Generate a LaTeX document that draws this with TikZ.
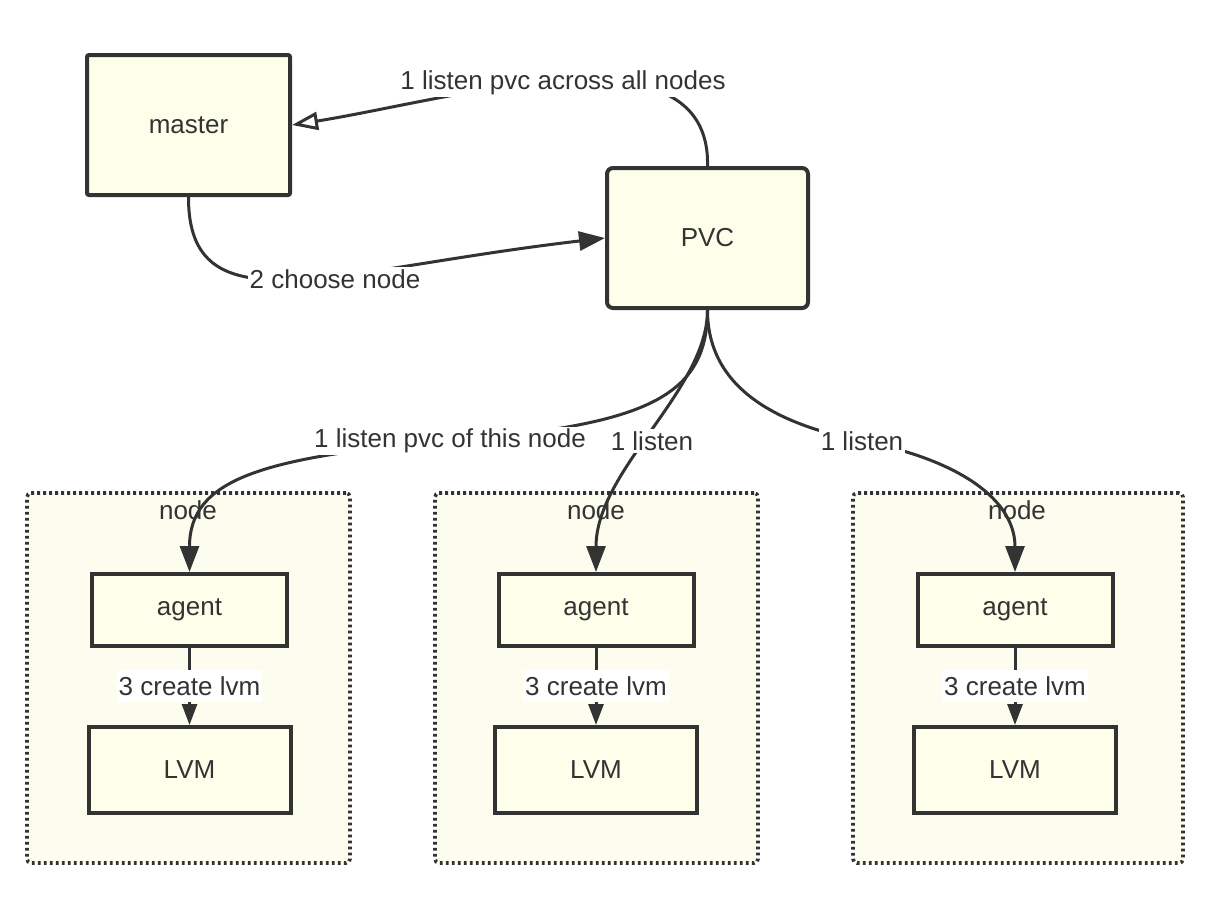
\documentclass[tikz,border=0pt]{standalone}
\usepackage{fontspec}
\setmainfont{Liberation Sans}
\usetikzlibrary{arrows.meta}
\definecolor{ink}{HTML}{333333}
\definecolor{boxfill}{HTML}{FEFFEA}
\definecolor{groupfill}{HTML}{FCFCEF}
\begin{document}
\begin{tikzpicture}[x=0.5pt,y=-0.5pt,
  txt/.style={font=\fontsize{13}{15}\selectfont, text=ink},
  box/.style={txt, draw=ink, line width=2pt, fill=boxfill, inner sep=0pt},
  group/.style={draw=ink, line width=1.8pt, dash pattern=on 1.4pt off 1.6pt,
                fill=groupfill, rounded corners=2pt, inner sep=0pt},
  link/.style={draw=ink, line width=1.5pt},
  solidtip/.style={-{Triangle[length=13pt,width=9.5pt]}},
  smalltip/.style={-{Triangle[length=10.5pt,width=7.5pt]}},
  opentip/.style={-{Triangle[open,length=13pt,width=9pt,fill=white]}},
  lbl/.style={txt, fill=white, inner sep=1pt}]
\useasboundingbox (0,0) rectangle (1220,896);
\fill[white] (0,0) rectangle (1220,896);

% node groups
\node[group, minimum width=161.5pt, minimum height=185pt] (g1) at (188.5,678) {};
\node[group, minimum width=161.5pt, minimum height=185pt] (g2) at (596.5,678) {};
\node[group, minimum width=165pt,   minimum height=185pt] (g3) at (1018,678) {};
\node[txt] (n1) at (188,510) {node};
\node[txt] (n2) at (596,510) {node};
\node[txt] (n3) at (1017,510) {node};

% main boxes
\node[box, rounded corners=1pt, minimum width=101.5pt, minimum height=70pt] (master) at (188.5,125) {master};
\node[box, rounded corners=3pt, minimum width=100.5pt, minimum height=70pt] (pvc) at (707.5,238) {PVC};

\foreach \i/\x in {1/189.5, 2/596, 3/1015} {
  \node[box, minimum width=97.5pt, minimum height=36pt] (agent\i) at (\x,610) {agent};
  \node[box, minimum width=101pt, minimum height=43pt] (lvm\i) at (\x,770) {LVM};
}

% edge labels
\node[lbl] (la) at (450,441) {1 listen pvc of this node};
\node[lbl] (lb) at (652,441) {1 listen};
\node[lbl] (lc) at (862,441) {1 listen};

% connectors
\draw[link, opentip] (pvc.north) .. controls (711,20) and (450,100) .. (master.east);
\draw[link, solidtip] (master.south) .. controls (188,330) and (330,270) .. (pvc.west);
\draw[link, solidtip] (pvc.south) .. controls (707.5,400) and (640,425) .. (la.center)
                                  .. controls (260,457) and (189.5,480) .. (agent1.north);
\draw[link, solidtip] (pvc.south) .. controls (707.5,390) and (596,470) .. (agent2.north);
\draw[link, solidtip] (pvc.south) .. controls (707.5,390) and (780,425) .. (lc.center)
                                  .. controls (960,460) and (1015,500) .. (agent3.north);
\foreach \i in {1,2,3} {
  \draw[link, smalltip] (agent\i.south) -- (lvm\i.north);
}

% labels on top of the connectors
\node[lbl] at (la) {1 listen pvc of this node};
\node[lbl] at (lb) {1 listen};
\node[lbl] at (lc) {1 listen};
\node[lbl] (l0) at (563,83) {1 listen pvc across all nodes};
\node[lbl] (l2) at (335,279) {2 choose node};
\foreach \i/\x in {1/189.5, 2/596, 3/1015} {
  \node[lbl, inner ysep=3pt] (c\i) at (\x,686) {3 create lvm};
}
\end{tikzpicture}
\end{document}
